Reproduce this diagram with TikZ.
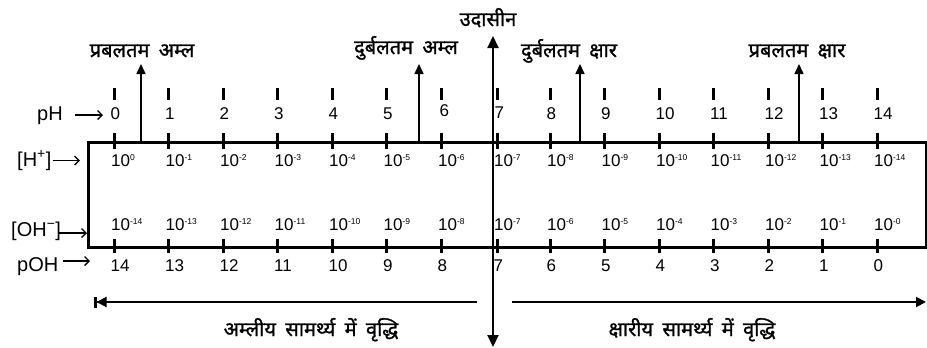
\documentclass[tikz,border=0pt]{standalone}
\usepackage{fontspec}
\setmainfont{Liberation Sans}
\newfontfamily\deva[Script=Devanagari,FakeBold=1.2,WordSpace=1.8]{Noto Sans}
\usetikzlibrary{arrows.meta}
\newcommand\myex[1]{\raisebox{6pt}{\fontsize{8.5}{8.5}\selectfont #1}}
\begin{document}
\begin{tikzpicture}[x=1pt,y=-1pt,
  num/.style={font=\fontsize{17}{19}\selectfont, inner sep=0pt, anchor=base west},
  lab/.style={font=\fontsize{20}{22}\selectfont, inner sep=0pt, anchor=base west},
  dlab/.style={font=\deva\fontsize{20}{22}\selectfont, inner sep=0pt, anchor=base},
  tk/.style={line width=3pt},
  boxstyle/.style={draw, line width=2.5pt, inner sep=0pt, anchor=north west},
  uparr/.style={line width=1.6pt, -{Triangle[length=10pt,width=9pt]}},
  bigarr/.style={line width=2pt, {Triangle[length=12pt,width=11pt]}-{Triangle[length=12pt,width=11pt]}},
  harr/.style={line width=2pt, -{Triangle[length=10pt,width=10pt]}},
  barr/.style={line width=2pt, -{Triangle[length=10pt,width=10pt]Bar[width=11pt,line width=2.5pt]}},
  sidearr/.style={line width=1.3pt, -{Straight Barb[length=4.5pt,width=9pt]}},
]
\useasboundingbox (0,0) rectangle (927,348);

% main box
\node[boxstyle, minimum width=838pt, minimum height=105pt] (box) at (87,141) {};

% ticks and numbers
\foreach \i in {0,...,14} {
  \pgfmathsetmacro\xx{ifthenelse(\i==7,497,114+54.5*\i)}
  \pgfmathtruncatemacro\j{14-\i}
  \draw[tk] (\xx,88) -- (\xx,100);
  \draw[tk] (\xx,133) -- (\xx,149);
  \draw[tk] (\xx,239) -- (\xx,253);
  \node[num] (poh\i) at (\xx-3.5,271) {\j};
  \ifnum\i=0
    \node[num] (h\i) at (\xx-3,166) {10\myex{0}};
  \else
    \node[num] (h\i) at (\xx-3,166) {10\myex{-\i}};
  \fi
  \node[num] (oh\i) at (\xx-3,230) {10\myex{-\j}};
}
\foreach \i in {0,1,2,3,4,5,8,9,10,11,12,13,14} {
  \pgfmathsetmacro\xx{114+54.5*\i}
  \node[num] (ph\i) at (\xx-3.5,119.5) {\i};
}
\node[num] (ph6) at (439.5,116.5) {6};
\node[num] (ph7) at (494.5,118) {7};

% left labels
\node[lab] (lph) at (37,120) {pH};
\coordinate (aph1) at (75,115);
\coordinate (aph2) at (103,115);
\draw[sidearr] (aph1) -- (aph2);

\node[lab] (lh) at (17,166.5) {[H\textsuperscript{+}]};
\coordinate (ah1) at (53,160.5);
\coordinate (ah2) at (80,160.5);
\draw[sidearr] (ah1) -- (ah2);

\node[lab] (loh) at (11,236.5) {[OH\textsuperscript{−}]};
\coordinate (aoh1) at (58,233);
\coordinate (aoh2) at (87,233);
\draw[sidearr] (aoh1) -- (aoh2);

\node[lab] (lpoh) at (17,271) {pOH};
\coordinate (apoh1) at (63,261);
\coordinate (apoh2) at (90,261);
\draw[sidearr] (apoh1) -- (apoh2);

% vertical arrows and top labels
\coordinate (sab) at (141,141); \coordinate (sat) at (141,64);
\draw[uparr] (sab) -- (sat);
\node[dlab] (lsa) at (142,57) {प्रबलतम अम्ल};

\coordinate (wab) at (419,141); \coordinate (wat) at (419,64);
\draw[uparr] (wab) -- (wat);
\node[dlab] (lwa) at (406,54) {दुर्बलतम अम्ल};

\coordinate (wbb) at (580,141); \coordinate (wbt) at (580,64);
\draw[uparr] (wbb) -- (wbt);
\node[dlab] (lwb) at (569,57) {दुर्बलतम क्षार};

\coordinate (sbb) at (799,141); \coordinate (sbt) at (799,64);
\draw[uparr] (sbb) -- (sbt);
\node[dlab] (lsb) at (797,57) {प्रबलतम क्षार};

\coordinate (nt) at (493,36); \coordinate (nb) at (493,347);
\draw[bigarr] (nb) -- (nt);
\node[dlab] (lneu) at (488,26) {उदासीन};

% bottom arrows
\coordinate (la1) at (477,302); \coordinate (la2) at (94,302);
\draw[barr] (la1) -- (la2);
\coordinate (ra1) at (512,302); \coordinate (ra2) at (926,302);
\draw[harr] (ra1) -- (ra2);
\node[dlab] (lacid) at (311,336) {अम्लीय सामर्थ्य में वृद्धि};
\node[dlab] (lbase) at (692,336) {क्षारीय सामर्थ्य में वृद्धि};
\end{tikzpicture}
\end{document}
